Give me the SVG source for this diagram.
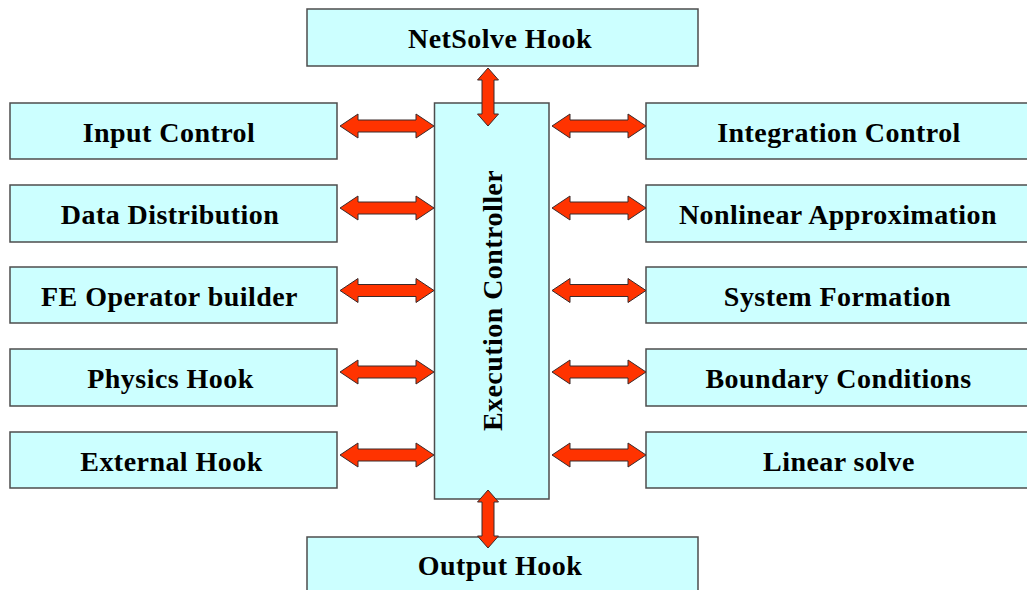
<svg xmlns="http://www.w3.org/2000/svg" width="1027" height="590" viewBox="0 0 1027 590">
<style>
.box{fill:#CCFFFF;stroke:#4d4d4d;stroke-width:1.5}
.lbl{font-family:"Liberation Serif","Times New Roman",serif;font-weight:bold;font-size:28px;fill:#000;text-anchor:middle;letter-spacing:0.45px}
.arr{fill:#FF3300;stroke:#3a2a2a;stroke-width:1}
</style>
<defs>
<path id="h" d="M0,0 L18,-12 L18,-6 L76,-6 L76,-12 L94,0 L76,12 L76,6 L18,6 L18,12 Z"/>
<path id="v" d="M0,0 L10.5,12 L6,12 L6,46 L10.5,46 L0,58 L-10.5,46 L-6,46 L-6,12 L-10.5,12 Z"/>
</defs>
<rect width="1027" height="590" fill="#fff"/>
<g id="netsolve"><rect class="box" x="307" y="9" width="391" height="57"/><text class="lbl" x="500" y="48">NetSolve Hook</text></g>
<g id="exec"><rect class="box" x="434.5" y="103" width="114.5" height="396"/><text class="lbl" transform="translate(501.5,300.5) rotate(-90)">Execution Controller</text></g>
<g id="output"><rect class="box" x="307" y="537" width="391" height="60"/><text class="lbl" x="500" y="575">Output Hook</text></g>
<g id="input"><rect class="box" x="10" y="103" width="327" height="56"/><text class="lbl" x="169" y="141.5">Input Control</text></g>
<g id="datadist"><rect class="box" x="10" y="185" width="327" height="57"/><text class="lbl" x="170" y="223.5">Data Distribution</text></g>
<g id="feop"><rect class="box" x="10" y="267" width="327" height="56"/><text class="lbl" x="169.5" y="305.5">FE Operator builder</text></g>
<g id="physics"><rect class="box" x="10" y="349" width="327" height="57"/><text class="lbl" x="170.5" y="388">Physics Hook</text></g>
<g id="external"><rect class="box" x="10" y="432" width="327" height="56"/><text class="lbl" x="171.5" y="470.5">External Hook</text></g>
<g id="integration"><rect class="box" x="646" y="103" width="390" height="56"/><text class="lbl" x="839" y="141.5">Integration Control</text></g>
<g id="nonlinear"><rect class="box" x="646" y="185" width="390" height="57"/><text class="lbl" x="838" y="223.5">Nonlinear Approximation</text></g>
<g id="sysform"><rect class="box" x="646" y="267" width="390" height="56"/><text class="lbl" x="837.5" y="305.5">System Formation</text></g>
<g id="boundary"><rect class="box" x="646" y="349" width="390" height="57"/><text class="lbl" x="838.5" y="388">Boundary Conditions</text></g>
<g id="linear"><rect class="box" x="646" y="432" width="390" height="56"/><text class="lbl" x="839" y="470.5">Linear solve</text></g>
<g id="connectors" class="arr">
<use href="#v" transform="translate(488,68)"/>
<use href="#v" transform="translate(488,490)"/>
<use href="#h" transform="translate(340,126)"/>
<use href="#h" transform="translate(340,208)"/>
<use href="#h" transform="translate(340,290.5)"/>
<use href="#h" transform="translate(340,372)"/>
<use href="#h" transform="translate(340,455)"/>
<use href="#h" transform="translate(552,126)"/>
<use href="#h" transform="translate(552,208)"/>
<use href="#h" transform="translate(552,290.5)"/>
<use href="#h" transform="translate(552,372)"/>
<use href="#h" transform="translate(552,455)"/>
</g>
</svg>
